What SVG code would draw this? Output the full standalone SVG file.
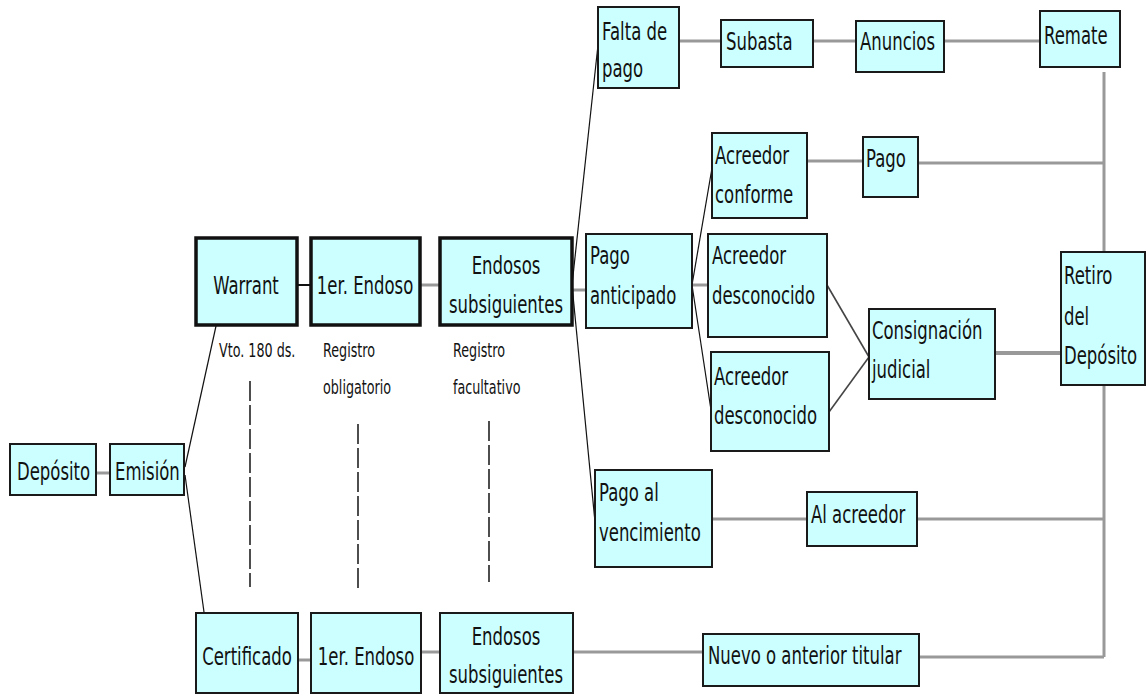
<svg xmlns="http://www.w3.org/2000/svg" width="1147" height="695" viewBox="0 0 1147 695">
<style>
.b{fill:#ccffff;stroke:#1a1a1a;stroke-width:2}
.bt{fill:#ccffff;stroke:#111;stroke-width:3.5}
.t{font-family:"DejaVu Sans","Verdana",sans-serif;font-size:25px;fill:#111}
.s{font-family:"DejaVu Sans","Verdana",sans-serif;font-size:19px;fill:#111}
.m{text-anchor:middle}
.g{stroke:#999;stroke-width:3;fill:none}
.k{stroke:#111;stroke-width:1.2;fill:none}
.d{stroke:#444;stroke-width:1.6;fill:none}
.dash{stroke:#222;stroke-width:1.6;stroke-dasharray:20 4;fill:none}
</style>
<rect width="1147" height="695" fill="#fff"/>
<g id="connectors">
<line class="g" x1="96" y1="473" x2="110" y2="473"/>
<line class="k" x1="185" y1="467" x2="216" y2="326"/>
<line class="k" x1="185" y1="475" x2="204" y2="612"/>
<line class="k" x1="298" y1="285" x2="310" y2="285" style="stroke-width:2"/>
<line class="g" x1="421" y1="285" x2="439" y2="285"/>
<line class="g" x1="573" y1="290" x2="586" y2="290"/>
<line class="k" x1="572" y1="285" x2="598" y2="45"/>
<line class="k" x1="572" y1="285" x2="595" y2="522"/>
<line class="g" x1="679" y1="41" x2="721" y2="41"/>
<line class="g" x1="813" y1="41" x2="856" y2="41"/>
<line class="g" x1="944" y1="41" x2="1040" y2="41"/>
<line class="k" x1="692" y1="285" x2="712" y2="168"/>
<line class="k" x1="692" y1="285" x2="711" y2="410"/>
<line class="g" x1="692" y1="285" x2="708" y2="285"/>
<line class="g" x1="807" y1="161" x2="863" y2="161"/>
<line class="g" x1="918" y1="163" x2="1104" y2="163"/>
<line class="d" x1="827" y1="285" x2="869" y2="357"/>
<line class="d" x1="829" y1="412" x2="869" y2="357"/>
<line class="g" x1="995" y1="353" x2="1061" y2="353" style="stroke-width:4"/>
<line class="g" x1="1104" y1="72" x2="1104" y2="657"/>
<line class="g" x1="712" y1="519" x2="807" y2="519"/>
<line class="g" x1="917" y1="519" x2="1104" y2="519"/>
<line class="g" x1="573" y1="652" x2="703" y2="652"/>
<line class="g" x1="919" y1="657" x2="1104" y2="657"/>
<line class="g" x1="298" y1="660" x2="310" y2="660"/>
<line class="g" x1="421" y1="652" x2="440" y2="652"/>
<line class="dash" x1="250" y1="381" x2="250" y2="587"/>
<line class="dash" x1="358" y1="424" x2="358" y2="592"/>
<line class="dash" x1="489" y1="421" x2="489" y2="582"/>
</g>
<g id="deposito"><rect class="b" x="10" y="444" width="86" height="51"/><text class="t" transform="translate(17 480) scale(0.66 1)">Depósito</text></g>
<g id="emision"><rect class="b" x="110" y="444" width="74" height="51"/><text class="t" transform="translate(115 480) scale(0.66 1)">Emisión</text></g>
<g id="warrant"><rect class="bt" x="196" y="238" width="101" height="87"/><text class="t m" transform="translate(246 294) scale(0.66 1)">Warrant</text></g>
<g id="endoso1"><rect class="bt" x="311" y="238" width="109" height="87"/><text class="t m" transform="translate(365 294) scale(0.66 1)">1er. Endoso</text></g>
<g id="endosos"><rect class="bt" x="440" y="238" width="132" height="87"/><text class="t m" transform="translate(506 274) scale(0.66 1)"><tspan x="0" y="0">Endosos</tspan><tspan x="0" y="39">subsiguientes</tspan></text></g>
<g id="lbl-vto"><text class="s" transform="translate(219 357) scale(0.67 1)">Vto. 180 ds.</text></g>
<g id="lbl-oblig"><text class="s" transform="translate(323 357) scale(0.67 1)"><tspan x="0" y="0">Registro</tspan><tspan x="0" y="37">obligatorio</tspan></text></g>
<g id="lbl-facul"><text class="s" transform="translate(453 357) scale(0.67 1)"><tspan x="0" y="0">Registro</tspan><tspan x="0" y="37">facultativo</tspan></text></g>
<g id="certificado"><rect class="b" x="196" y="613" width="102" height="80"/><text class="t m" transform="translate(247 665) scale(0.66 1)">Certificado</text></g>
<g id="endoso1b"><rect class="b" x="311" y="613" width="110" height="80"/><text class="t m" transform="translate(366 665) scale(0.66 1)">1er. Endoso</text></g>
<g id="endososb"><rect class="b" x="440" y="613" width="133" height="80"/><text class="t m" transform="translate(506 645) scale(0.66 1)"><tspan x="0" y="0">Endosos</tspan><tspan x="0" y="38">subsiguientes</tspan></text></g>
<g id="falta"><rect class="b" x="598" y="7" width="81" height="81"/><text class="t" transform="translate(602 40) scale(0.66 1)"><tspan x="0" y="0">Falta de</tspan><tspan x="0" y="37">pago</tspan></text></g>
<g id="subasta"><rect class="b" x="721" y="20" width="92" height="47"/><text class="t" transform="translate(726 50) scale(0.66 1)">Subasta</text></g>
<g id="anuncios"><rect class="b" x="856" y="21" width="88" height="51"/><text class="t" transform="translate(860 50) scale(0.66 1)">Anuncios</text></g>
<g id="remate"><rect class="b" x="1040" y="11" width="80" height="56"/><text class="t" transform="translate(1044 44) scale(0.66 1)">Remate</text></g>
<g id="conforme"><rect class="b" x="712" y="133" width="95" height="85"/><text class="t" transform="translate(715 164) scale(0.66 1)"><tspan x="0" y="0">Acreedor</tspan><tspan x="0" y="39">conforme</tspan></text></g>
<g id="pago"><rect class="b" x="863" y="137" width="55" height="60"/><text class="t" transform="translate(866 167) scale(0.66 1)">Pago</text></g>
<g id="anticipado"><rect class="b" x="586" y="234" width="106" height="94"/><text class="t" transform="translate(590 264) scale(0.66 1)"><tspan x="0" y="0">Pago</tspan><tspan x="0" y="40">anticipado</tspan></text></g>
<g id="desconocido1"><rect class="b" x="708" y="234" width="119" height="103"/><text class="t" transform="translate(712 264) scale(0.66 1)"><tspan x="0" y="0">Acreedor</tspan><tspan x="0" y="40">desconocido</tspan></text></g>
<g id="desconocido2"><rect class="b" x="711" y="352" width="118" height="99"/><text class="t" transform="translate(714 385) scale(0.66 1)"><tspan x="0" y="0">Acreedor</tspan><tspan x="0" y="39">desconocido</tspan></text></g>
<g id="consignacion"><rect class="b" x="869" y="309" width="126" height="90"/><text class="t" transform="translate(872 339) scale(0.66 1)"><tspan x="0" y="0">Consignación</tspan><tspan x="0" y="39">judicial</tspan></text></g>
<g id="retiro"><rect class="b" x="1061" y="252" width="84" height="133"/><text class="t" transform="translate(1064 284) scale(0.66 1)"><tspan x="0" y="0">Retiro</tspan><tspan x="0" y="41">del</tspan><tspan x="0" y="80">Depósito</tspan></text></g>
<g id="vencimiento"><rect class="b" x="595" y="470" width="117" height="97"/><text class="t" transform="translate(599 501) scale(0.66 1)"><tspan x="0" y="0">Pago al</tspan><tspan x="0" y="40">vencimiento</tspan></text></g>
<g id="alacreedor"><rect class="b" x="807" y="492" width="110" height="54"/><text class="t" transform="translate(811 523) scale(0.66 1)">Al acreedor</text></g>
<g id="nuevo"><rect class="b" x="703" y="634" width="216" height="52"/><text class="t" transform="translate(708 664) scale(0.66 1)">Nuevo o anterior titular</text></g>
</svg>
